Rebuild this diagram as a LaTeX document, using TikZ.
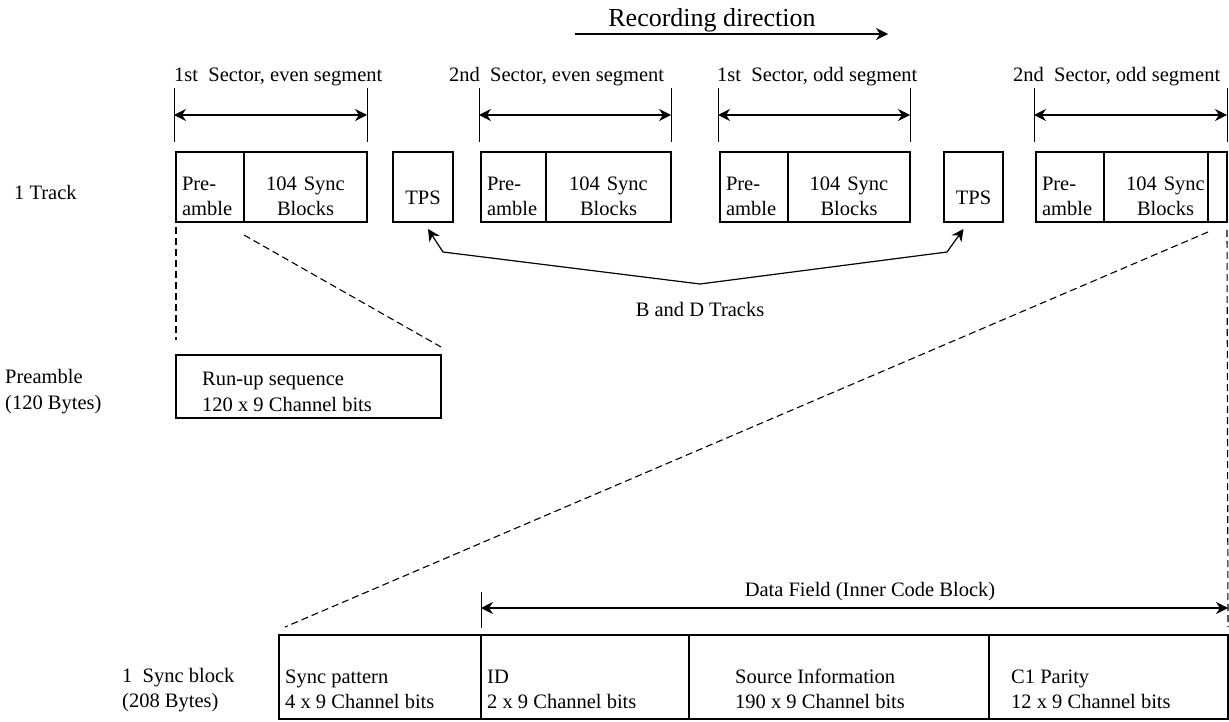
\documentclass[tikz,border=0pt]{standalone}
\usepackage{fontspec}
\setmainfont{Liberation Serif}
\usetikzlibrary{arrows.meta}

\newcommand{\lblfont}{\fontsize{20.5}{25}\selectfont}
\newcommand{\bigfont}{\fontsize{26}{30}\selectfont}

\begin{document}
\begin{tikzpicture}[x=1pt, y=-1pt,
    txt/.style={font=\lblfont, inner sep=0pt},
    cell/.style={draw, line width=2.8pt, font=\lblfont, anchor=north west,
      minimum height=70pt, inner xsep=6pt, inner ysep=0pt, outer sep=0pt,
      execute at begin node={\rule{0pt}{32pt}}},
    tpsbox/.style={cell, execute at begin node={\rule{0pt}{36pt}}},
    frame/.style={draw, line width=2.8pt, anchor=north west, inner sep=0pt, outer sep=0pt},
    tick/.style={line width=1pt},
    dimline/.style={line width=1.1pt,
      {Stealth[length=12pt,width=12pt,inset=4pt]}-{Stealth[length=12pt,width=12pt,inset=4pt]}},
    pointer/.style={line width=1.2pt, -{Stealth[length=12pt,width=12pt,inset=4pt]}},
    zoomline/.style={line width=1.1pt, dash pattern=on 7pt off 4pt}]
  \useasboundingbox (0,0) rectangle (1229,722);

  % recording direction
  \node[txt, font=\bigfont] (recdir) at (712,20) {Recording direction};
  \coordinate (recA) at (575,34);
  \coordinate (recB) at (888,34);
  \draw[pointer] (recA) -- (recB);

  % one track
  \node[txt, anchor=west] (trk) at (14,192) {1 Track};
  \node[cell, text width=56pt, align=left] (pre1) at (176,152) {Pre-\\amble};
  \node[cell, text width=111pt, align=center] (sync1) at (pre1.north east) {104 Sync\\Blocks};
  \node[tpsbox, text width=48pt, align=center] (tps1) at (393,152) {TPS};
  \node[cell, text width=53pt, align=left] (pre2) at (481,152) {Pre-\\amble};
  \node[cell, text width=113pt, align=center] (sync2) at (pre2.north east) {104 Sync\\Blocks};
  \node[cell, text width=56pt, align=left] (pre3) at (720,152) {Pre-\\amble};
  \node[cell, text width=110pt, align=center] (sync3) at (pre3.north east) {104 Sync\\Blocks};
  \node[tpsbox, text width=47pt, align=center] (tps2) at (944,152) {TPS};
  \node[cell, text width=56pt, align=left] (pre4) at (1036,152) {Pre-\\amble};
  \node[cell, text width=111pt, align=center] (sync4) at (pre4.north east) {104 Sync\\Blocks};
  \draw[line width=2.8pt] ([xshift=-19pt]sync4.north east) coordinate (cut4)
    -- ([xshift=-19pt]sync4.south east) coordinate (cut4b);

  % sector widths
  \node[txt, anchor=west] (sec1) at (174,77) {1st\ \ Sector, even segment};
  \node[txt, anchor=west] (sec2) at (449,77) {2nd\ \ Sector, even segment};
  \node[txt, anchor=west] (sec3) at (717,77) {1st\ \ Sector, odd segment};
  \node[txt, anchor=west] (sec4) at (1013,77) {2nd\ \ Sector, odd segment};
  \foreach \p/\s in {pre1/sync1, pre2/sync2, pre3/sync3, pre4/sync4} {
    \draw[tick] ([xshift=-2pt]\p.north west |- 0,88) -- ([xshift=-2pt]\p.north west |- 0,142);
    \draw[tick] (\s.north east |- 0,88) -- (\s.north east |- 0,142);
    \draw[dimline] ([xshift=-2pt]\p.north west |- 0,115) -- (\s.north east |- 0,115);
  }

  % B and D tracks
  \coordinate (bdj) at (700,284);
  \node[txt] (bd) at (700,309) {B and D Tracks};
  \draw[pointer] (bdj) -- (443,252) -- ([xshift=5pt,yshift=-7pt]tps1.south);
  \draw[pointer] (bdj) -- (947,252) -- ([xshift=-10pt,yshift=-7pt]tps2.south);

  % preamble
  \node[txt, anchor=west, align=left] (prelbl) at (5,392) {Preamble\\[1pt](120 Bytes)};
  \node[frame, minimum width=265pt, minimum height=63pt] (runup) at (176,355) {};
  \node[txt, anchor=west, align=left] (runtxt) at (202,392) {Run-up sequence\\[1pt]120 x 9 Channel bits};
  \draw[zoomline] ([yshift=-5pt]pre1.south west) -- ([yshift=15pt]runup.north west);
  \draw[zoomline] ([yshift=-13pt]pre1.south east) -- ([yshift=8pt]runup.north east);

  % one sync block
  \node[txt, anchor=west, align=left] (sblbl) at (122,690) {1\ \ Sync block\\(208 Bytes)};
  \node[frame, minimum width=202pt, minimum height=84pt] (spat) at (279,635) {};
  \node[frame, minimum width=208pt, minimum height=84pt] (idf) at (spat.north east) {};
  \node[frame, minimum width=300pt, minimum height=84pt] (src) at (idf.north east) {};
  \node[frame, minimum width=239pt, minimum height=84pt] (par) at (src.north east) {};
  \node[txt, anchor=west, align=left] (spattxt) at ([xshift=6pt,yshift=-12pt]spat.west) {Sync pattern\\4 x 9 Channel bits};
  \node[txt, anchor=west, align=left] (idtxt) at ([xshift=6pt,yshift=-12pt]idf.west) {ID\\2 x 9 Channel bits};
  \node[txt, anchor=west, align=left] (srctxt) at ([xshift=46pt,yshift=-12pt]src.west) {Source Information\\190 x 9 Channel bits};
  \node[txt, anchor=west, align=left] (partxt) at ([xshift=22pt,yshift=-12pt]par.west) {C1 Parity\\12 x 9 Channel bits};

  % data field
  \node[txt] (dfield) at (870,592) {Data Field (Inner Code Block)};
  \draw[tick] (idf.north west |- 0,592) -- (idf.north west |- 0,628);
  \draw[dimline] (idf.north west |- 0,608) -- (par.north east |- 0,608);
  \draw[zoomline] ([yshift=-10pt]cut4b) -- ([xshift=6pt,yshift=8pt]spat.north west);
  \draw[zoomline] ([yshift=-8pt]sync4.south east) -- ([yshift=8pt]par.north east);
\end{tikzpicture}
\end{document}
